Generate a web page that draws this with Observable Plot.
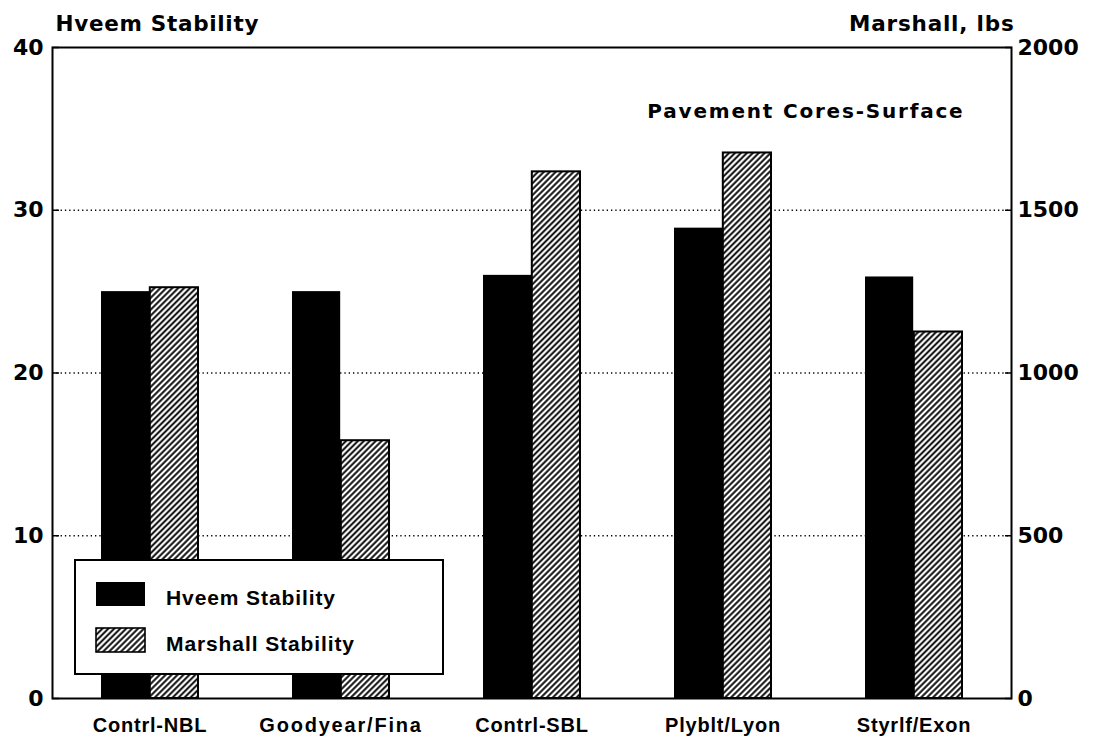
<!DOCTYPE html>
<html>
<head>
<meta charset="utf-8">
<script src="https://cdn.jsdelivr.net/npm/d3@7"></script>
<script src="https://cdn.jsdelivr.net/npm/@observablehq/plot@0.6"></script>
<style>
  html, body { margin: 0; padding: 0; background: #fff; overflow: hidden; }
  #wrap { position: relative; width: 1100px; height: 742px; }
  #legend { position: absolute; left: 74px; top: 559px; }
</style>
</head>
<body>
<div id="wrap"></div>
<script>
// ---- data ----
const categories = ["Contrl-NBL", "Goodyear/Fina", "Contrl-SBL", "Plyblt/Lyon", "Styrlf/Exon"];
const hveem = [25.0, 25.0, 26.0, 28.9, 25.9];          // Hveem stability
const marshall = [1262, 792, 1618, 1676, 1126];         // Marshall stability, lbs
const leftTicks = [0, 10, 20, 30, 40];
const rightTicks = [0, 500, 1000, 1500, 2000];
const gridTicks = [10, 20, 30];
const seriesNames = ["Hveem Stability", "Marshall Stability"];
const leftTitle = ["Hveem Stability"];
const rightTitle = ["Marshall, lbs"];
const panelTitle = ["Pavement Cores-Surface"];

const ratio = rightTicks[rightTicks.length - 1] / leftTicks[leftTicks.length - 1];
const rows = categories.map((c, i) => ({category: c, hveem: hveem[i], marshall: marshall[i]}));

// ---- layout ----
const W = 1100, H = 742;
const mL = 52, mR = 89, mT = 47, mB = 44;
const pIn = 0.49, pOut = 0.25;
const step = (W - mL - mR) / (categories.length - pIn + 2 * pOut);
const half = step * (1 - pIn) / 2;

const numFont = "DejaVu Sans";
const txtFont = "Liberation Sans";

const chart = Plot.plot({
  width: W, height: H,
  marginLeft: mL, marginRight: mR, marginTop: mT, marginBottom: mB,
  style: {background: "white", fontFamily: txtFont, color: "black"},
  x: {domain: categories, paddingInner: pIn, paddingOuter: pOut, label: null},
  y: {domain: [0, 40], label: null},
  marks: [
    Plot.gridY(gridTicks, {stroke: "black", strokeOpacity: 1, strokeWidth: 1.3, strokeDasharray: "1.3,3"}),
    Plot.barY(rows, {x: "category", y: "hveem", fill: "black", insetRight: half}),
    Plot.barY(rows, {x: "category", y: d => d.marshall / ratio, fill: "url(#hatch)", stroke: "black", strokeWidth: 2, insetLeft: half}),
    // inward ticks
    Plot.axisY({anchor: "left", ticks: leftTicks, tickSize: 7, dx: 7, tickFormat: () => "", strokeWidth: 1.5}),
    Plot.axisY({anchor: "right", ticks: leftTicks, tickSize: 7, dx: -7, tickFormat: () => "", strokeWidth: 1.5}),
    // labels
    Plot.axisY({anchor: "left", ticks: leftTicks, tickSize: 0, tickPadding: 9,
      fontSize: 22, fontWeight: "bold", fontFamily: numFont}),
    Plot.axisY({anchor: "right", ticks: rightTicks.map(r => r / ratio), tickSize: 0, tickPadding: 6,
      tickFormat: d => String(Math.round(d * ratio)), fontSize: 22, fontWeight: "bold", fontFamily: numFont}),
    Plot.axisX({tickSize: 0, tickPadding: 19, fontSize: 20, fontWeight: "bold", fontFamily: txtFont}),
    Plot.frame({stroke: "black", strokeWidth: 2}),
    Plot.text(leftTitle, {text: d => d, frameAnchor: "top-left", textAnchor: "start", lineAnchor: "top",
      dx: 3, dy: -32, fontSize: 21.5, fontWeight: "bold", fontFamily: numFont}),
    Plot.text(rightTitle, {text: d => d, frameAnchor: "top-right", textAnchor: "end", lineAnchor: "top",
      dx: 3, dy: -32, fontSize: 21.5, fontWeight: "bold", fontFamily: numFont}),
    Plot.text(panelTitle, {text: d => d, frameAnchor: "top-right", textAnchor: "end", lineAnchor: "top",
      dx: -47, dy: 56, fontSize: 20, fontWeight: "bold", fontFamily: numFont})
  ]
});

// hatch pattern
const svg = d3.select(chart);
const defs = svg.insert("defs", ":first-child");
function addHatch(d, id) {
  const s = 4.2;
  const p = d.append("pattern").attr("id", id).attr("patternUnits", "userSpaceOnUse")
    .attr("width", s).attr("height", s).attr("patternTransform", "rotate(45)");
  p.append("rect").attr("width", s).attr("height", s).attr("fill", "white");
  p.append("line").attr("x1", s / 2).attr("x2", s / 2).attr("y1", 0).attr("y2", s)
    .attr("stroke", "black").attr("stroke-width", 1.9);
}
addHatch(defs, "hatch");

// letter spacing tweaks
const spacing = new Map([
  [leftTitle[0], 0.7], [rightTitle[0], 0.8], [panelTitle[0], 1.8],
  ...categories.map(c => [c, 0.8])
]);
spacing.set("Goodyear/Fina", 1.8);
svg.selectAll("text").each(function() {
  const t = this.textContent;
  if (spacing.has(t)) d3.select(this).style("letter-spacing", spacing.get(t) + "px");
});

document.getElementById("wrap").appendChild(chart);

// legend (inside plot area, lower left)
const lg = d3.select("#wrap").append("svg").attr("id", "legend").attr("width", 372).attr("height", 118);
addHatch(lg.append("defs"), "hatchLegend");
lg.append("rect").attr("x", 1).attr("y", 1).attr("width", 368).attr("height", 114)
  .attr("fill", "white").attr("stroke", "black").attr("stroke-width", 2);
const swatches = [{fill: "black", stroke: "none"}, {fill: "url(#hatchLegend)", stroke: "black"}];
seriesNames.forEach((name, i) => {
  const y0 = 23 + i * 46;
  lg.append("rect").attr("x", 22).attr("y", y0).attr("width", 49).attr("height", 24)
    .attr("fill", swatches[i].fill).attr("stroke", swatches[i].stroke).attr("stroke-width", 1.6);
  lg.append("text").attr("x", 92).attr("y", y0 + 23).text(name)
    .attr("font-family", txtFont).attr("font-weight", "bold").attr("font-size", 21)
    .style("letter-spacing", "0.9px");
});
</script>
</body>
</html>
